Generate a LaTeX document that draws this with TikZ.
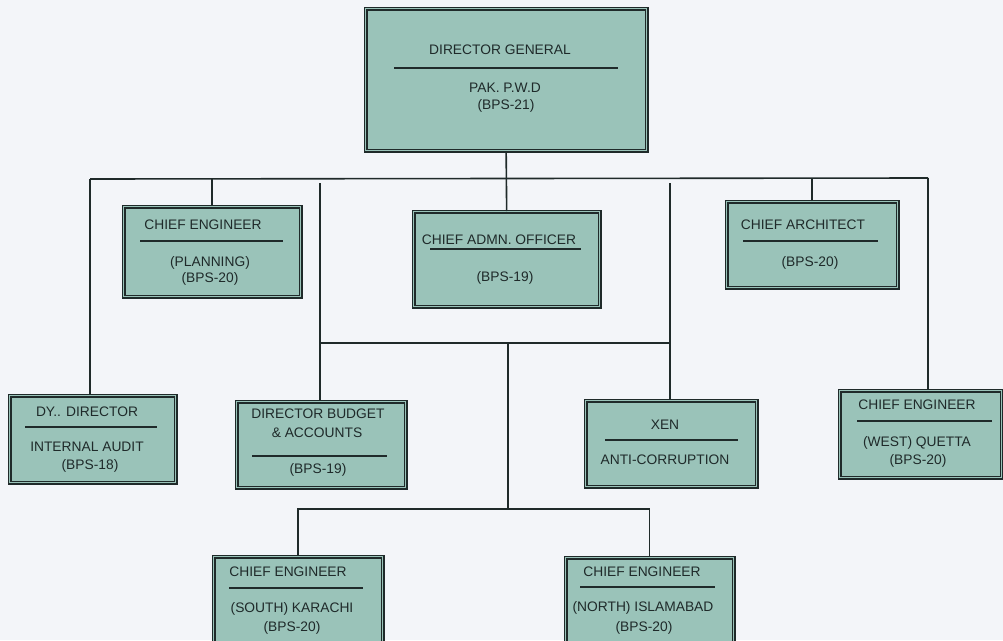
\documentclass[tikz,border=0pt]{standalone}
\usepackage{fontspec}
\setmainfont{Liberation Sans}
\definecolor{bg}{HTML}{F3F5F9}
\definecolor{boxfill}{HTML}{9AC3B9}
\definecolor{ink}{HTML}{1F2A2A}
\begin{document}
\begin{tikzpicture}[x=1pt,y=-1pt,
  box/.style={draw=ink, double=boxfill, double distance=1.4pt, line width=1.3pt,
              fill=boxfill, inner sep=0pt, anchor=north west},
  lbl/.style={font=\fontsize{13.8}{16}\selectfont, text=ink, inner sep=0pt,
              text height=9.8pt, text depth=0pt},
  divider/.style={draw=ink, line width=1.4pt},
  conn/.style={draw=ink, line width=1.6pt}]
\useasboundingbox (0,0) rectangle (1003,640);
\clip (0,0) rectangle (1003,640);
\fill[bg] (0,0) rectangle (1003,640);

% boxes
\node[box, minimum width=281pt, minimum height=142pt] (dg)   at (365,8)   {};
\node[box, minimum width=177pt, minimum height=90pt]  (plan) at (123,206) {};
\node[box, minimum width=186pt, minimum height=95pt]  (cao)  at (413,211) {};
\node[box, minimum width=171pt, minimum height=86pt]  (arch) at (726,201) {};
\node[box, minimum width=166pt, minimum height=87pt]  (dy)   at (9,395)   {};
\node[box, minimum width=169pt, minimum height=86pt]  (bud)  at (236,401) {};
\node[box, minimum width=171pt, minimum height=86pt]  (xen)  at (585,400) {};
\node[box, minimum width=162pt, minimum height=87pt]  (west) at (839,390) {};
\node[box, minimum width=169pt, minimum height=100pt] (south) at (213,556) {};
\node[box, minimum width=168pt, minimum height=100pt] (north) at (565,557) {};

% texts and dividers
\node[lbl] (dg1) at (500,50) {DIRECTOR GENERAL};
\draw[divider] (394,68) -- (618,68);
\node[lbl] (dg2) at (505,88) {PAK. P.W.D};
\node[lbl] (dg3) at (506,105) {(BPS-21)};

\node[lbl] (plan1) at (203,225) {CHIEF ENGINEER};
\draw[divider] (140,241) -- (283,241);
\node[lbl] (plan2) at (210,262) {(PLANNING)};
\node[lbl] (plan3) at (210,278) {(BPS-20)};

\node[lbl] (cao1) at (499,240) {CHIEF ADMN. OFFICER};
\draw[divider] (430,249) -- (581,249);
\node[lbl] (cao2) at (505,277) {(BPS-19)};

\node[lbl] (arch1) at (803,225) {CHIEF ARCHITECT};
\draw[divider] (743,241) -- (878,241);
\node[lbl] (arch2) at (810,262) {(BPS-20)};

\node[lbl] (dy1) at (87,412) {DY.. DIRECTOR};
\draw[divider] (25,427) -- (157,427);
\node[lbl] (dy2) at (87,447) {INTERNAL AUDIT};
\node[lbl] (dy3) at (90,465) {(BPS-18)};

\node[lbl] (bud1) at (318,414) {DIRECTOR BUDGET};
\node[lbl] (bud2) at (317,433) {\& ACCOUNTS};
\draw[divider] (252,456) -- (387,456);
\node[lbl] (bud3) at (318,469) {(BPS-19)};

\node[lbl] (xen1) at (665,425) {XEN};
\draw[divider] (605,440) -- (738,440);
\node[lbl] (xen2) at (665,460) {ANTI-CORRUPTION};

\node[lbl] (west1) at (917,405) {CHIEF ENGINEER};
\draw[divider] (857,421) -- (992,421);
\node[lbl] (west2) at (917,442) {(WEST) QUETTA};
\node[lbl] (west3) at (918,460) {(BPS-20)};

\node[lbl] (south1) at (288,572) {CHIEF ENGINEER};
\draw[divider] (229,588) -- (363,588);
\node[lbl] (south2) at (292,608) {(SOUTH) KARACHI};
\node[lbl] (south3) at (292,627) {(BPS-20)};

\node[lbl] (north1) at (642,572) {CHIEF ENGINEER};
\draw[divider] (580,587) -- (715,587);
\node[lbl] (north2) at (643,607) {(NORTH) ISLAMABAD};
\node[lbl] (north3) at (644,627) {(BPS-20)};

% junction coordinates
\coordinate (busL) at (90,179);
\coordinate (busR) at (928,178);
\coordinate (westtop) at (928,390);
\coordinate (budtop) at (320,183);
\coordinate (xentop) at (670,183);
\coordinate (midL) at (320,343);
\coordinate (midR) at (670,343);
\coordinate (midC) at (508,343);
\coordinate (lowC) at (508,509);

% connectors
\draw[conn] (dg.south) -- (cao.north);
\draw[conn] (busL) -- (busR);
\draw[conn] (busL) -- (busL |- dy.north);
\draw[conn] (busR) -- (westtop);
\draw[conn] (plan.north) -- (plan.north |- busL);
\draw[conn] (arch.north) -- (arch.north |- busR);
\draw[conn] (budtop) -- (budtop |- bud.north);
\draw[conn] (xentop) -- (xentop |- xen.north);
\draw[conn] (midL) -- (midR);
\draw[conn] (midC) -- (lowC);
\draw[conn] (south.north) |- (lowC) -| (north.north);
\end{tikzpicture}
\end{document}
